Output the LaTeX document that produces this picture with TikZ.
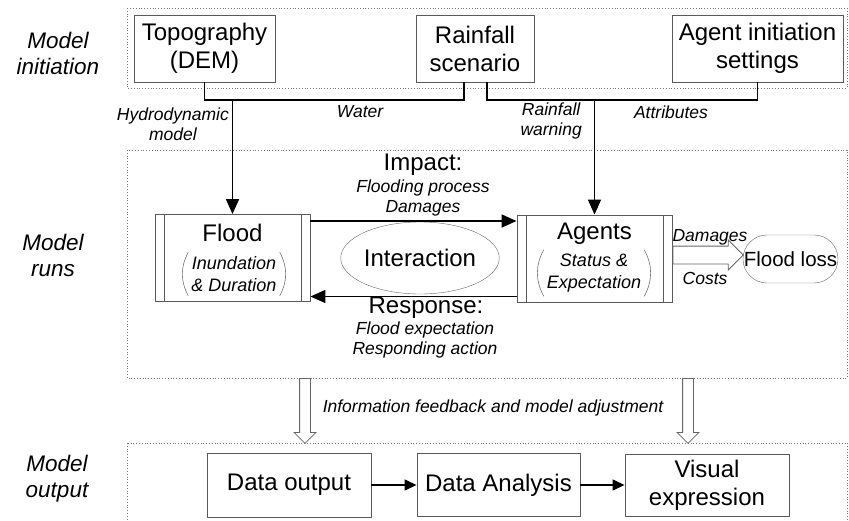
\documentclass[tikz,border=0pt]{standalone}
\usepackage{fontspec}
\setmainfont{Liberation Sans}
\usetikzlibrary{positioning,shapes.geometric,shapes.arrows,arrows.meta,calc}
\newcommand\FatArrow[3]{% from, to, extra style
    \path let \p1=(#1), \p2=(#2), \n1={atan2(\y2-\y1,\x2-\x1)}, \n2={veclen(\x2-\x1,\y2-\y1)} in
        node[fatarrow, #3, minimum height=\n2, rotate=\n1, anchor=tail] at (#1) {};
}
\newcommand\Parens[1]{%
    \draw[paren] (#1.north west) to[bend right=28] (#1.south west);
    \draw[paren] (#1.north east) to[bend left=28] (#1.south east);
}
\tikzset{
    box/.style={draw=black!65, line width=0.9pt, align=center, inner sep=0pt,
        font=\fontsize{24}{28}\selectfont},
    procbox/.style={box, minimum width=155pt, minimum height=87pt,
        path picture={\draw[black!65, line width=0.9pt]
            ([xshift=9pt]path picture bounding box.north west) -- ([xshift=9pt]path picture bounding box.south west)
            ([xshift=-9pt]path picture bounding box.north east) -- ([xshift=-9pt]path picture bounding box.south east);}},
    region/.style={draw=black!55, dotted, line width=0.8pt},
    sidelabel/.style={font=\fontsize{22.5}{26}\selectfont\itshape, align=center},
    lbl/.style={font=\fontsize{17.5}{19.5}\selectfont\itshape, align=center, inner sep=0pt},
    head/.style={font=\fontsize{24}{26}\selectfont, inner sep=0pt},
    paren/.style={black!55, line width=0.6pt},
    link/.style={line width=1.6pt},
    flow/.style={link, -{Triangle[length=15pt,width=13pt]}},
    smallflow/.style={line width=1.4pt, -{Triangle[length=12pt,width=11pt]}},
    fatarrow/.style={single arrow, draw=black!60, line width=0.8pt, inner xsep=0pt,
        single arrow head extend=5.5pt, single arrow tip angle=90},
}
\begin{document}
\begin{tikzpicture}[x=1pt, y=-1pt]
    \useasboundingbox (0,0) rectangle (849,520);
    % zones
    \draw[region] (127,8) rectangle (847,88);
    \draw[region] (127,150) rectangle (847,378);
    \draw[region] (127,443) rectangle (847,540);
    \node[sidelabel] (initlbl) at (58,53) {Model\\initiation};
    \node[sidelabel] (runlbl) at (53,255) {Model\\runs};
    \node[sidelabel] (outlbl) at (57,479) {Model\\output};

    % model initiation
    \node[box, minimum width=141pt, minimum height=67pt] (topo) at (204.5,48.5) {Topography\\(DEM)};
    \node[box, minimum width=118pt, minimum height=67pt] (rain) at (475,48.5) {Rainfall\\scenario};
    \node[box, minimum width=171pt, minimum height=67pt] (agentset) at (757.5,48.5) {Agent initiation\\settings};

    % model runs
    \node[procbox] (flood) at (232.5,258) {};
    \node[head] (floodtitle) at (232.5,233) {Flood};
    \node[lbl, font=\fontsize{18}{22}\selectfont\itshape, inner xsep=3pt, inner ysep=4pt] (floodsub) at (234,274) {Inundation\\\& Duration};
    \Parens{floodsub}
    \node[procbox] (agents) at (594.5,258.5) {};
    \node[head] (agentstitle) at (594.5,234) {Agents};
    \node[lbl, font=\fontsize{18}{22}\selectfont\itshape, inner xsep=3pt, inner ysep=4pt] (agentssub) at (594,273) {Status \&\\Expectation};
    \Parens{agentssub}
    \node[draw=black!60, ellipse, minimum width=125pt, minimum height=72pt, inner sep=0pt,
        font=\fontsize{24}{26}\selectfont] (inter) at (420,258) {Interaction};
    \node[draw=black!60, rounded corners=24pt, minimum width=95pt, minimum height=48pt, inner sep=0pt,
        font=\fontsize{20.5}{24}\selectfont] (loss) at (790.5,259) {Flood loss};

    \node[head] (impact) at (423,165) {Impact:};
    \node[lbl] (impactsub) at (423,198) {Flooding process\\Damages};
    \node[head] (response) at (426,308) {Response:};
    \node[lbl] (responsesub) at (425,340) {Flood expectation\\Responding action};

    % model output
    \node[box, minimum width=164pt, minimum height=64pt] (dataout) at (289,485) {Data output};
    \node[box, minimum width=163pt, minimum height=63pt] (analysis) at (498.5,485) {Data Analysis};
    \node[box, minimum width=164pt, minimum height=62pt] (visual) at (707,485) {Visual\\expression};

    % inputs
    \coordinate (rainW) at ([xshift=-11pt]rain.south);
    \coordinate (rainA) at ([xshift=12pt]rain.south);
    \coordinate (jw) at (flood.north |- 0,100);
    \coordinate (ja) at (agents.north |- 0,100);
    \draw[link] (topo.south) |- (rainW |- jw) -- (rainW);
    \draw[flow] (jw) -- (flood.north);
    \draw[link] (rainA) |- (agentset.south |- ja) -- (agentset.south);
    \draw[flow] (ja) -- (agents.north);
    \node[lbl, anchor=east] (hydro) at (229,124) {Hydrodynamic\\model};
    \node[lbl] (water) at (360,112) {Water};
    \node[lbl, anchor=east] (warning) at (582,121) {Rainfall\\warning};
    \node[lbl] (attr) at (671,112) {Attributes};

    % interaction
    \draw[flow] ([yshift=37pt]flood.east) -- ([yshift=37pt]flood.east -| agents.west);
    \draw[flow] ([yshift=-38pt]agents.west) -- ([yshift=-38pt]agents.west -| flood.east);

    % loss
    \coordinate (lossS) at (agents.east |- 0,255);
    \coordinate (lossE) at (loss.west |- 0,255);
    \FatArrow{lossS}{lossE}{inner ysep=8.5pt, single arrow head extend=6pt}
    \node[lbl] (dmg) at (710,237) {Damages};
    \node[lbl] (costs) at (705,278) {Costs};

    % feedback
    \coordinate (fbL) at (305,378);
    \coordinate (fbLe) at (305,443);
    \coordinate (fbR) at (688,378);
    \coordinate (fbRe) at (688,443);
    \FatArrow{fbL}{fbLe}{inner ysep=5pt}
    \FatArrow{fbR}{fbRe}{inner ysep=5pt}
    \node[lbl] (feedback) at (493,408) {Information feedback and model adjustment};

    \draw[smallflow] (dataout) -- (analysis);
    \draw[smallflow] (analysis) -- (visual);
\end{tikzpicture}
\end{document}
